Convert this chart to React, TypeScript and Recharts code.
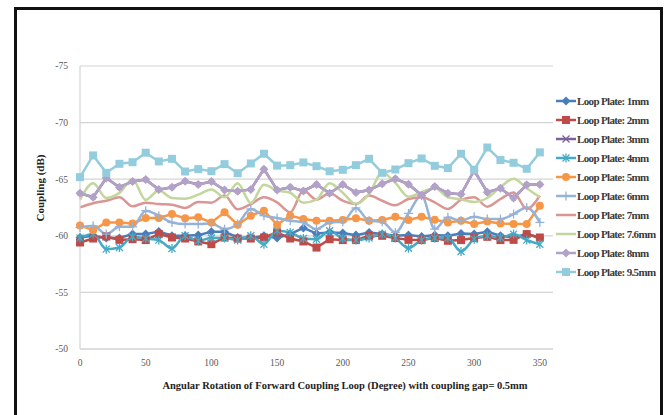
import React from 'react';
import { LineChart, Line, XAxis, YAxis, CartesianGrid } from 'recharts';

// Angular position of the forward coupling loop (degrees)
const angles = [0, 10, 20, 30, 40, 50, 60, 70, 80, 90, 100, 110, 120, 130, 140, 150, 160, 170, 180, 190, 200, 210, 220, 230, 240, 250, 260, 270, 280, 290, 300, 310, 320, 330, 340, 350];

// Coupling (dB) per loop plate size
const plate1mm = [-59.85, -60.0, -59.8, -59.8, -60.15, -60.15, -60.38, -60.0, -60.0, -60.06, -60.35, -60.35, -59.85, -59.8, -60.0, -59.8, -60.15, -60.7, -60.2, -60.3, -60.24, -60.06, -60.3, -60.15, -60.0, -60.06, -59.94, -60.06, -60.0, -60.2, -60.15, -60.35, -60.0, -59.85, -60.15, -59.8];
const plate2mm = [-59.41, -59.76, -59.94, -59.64, -59.7, -59.62, -60.15, -59.85, -59.76, -59.5, -59.26, -59.85, -59.76, -59.76, -59.85, -60.3, -59.76, -59.5, -58.96, -59.7, -59.62, -59.62, -60.0, -60.0, -59.8, -59.64, -59.62, -59.8, -59.56, -59.62, -59.8, -59.91, -59.62, -59.64, -60.15, -59.85];
const plate3mm = [-63.76, -63.4, -65.1, -64.29, -64.8, -64.97, -64.08, -64.29, -64.82, -64.53, -64.8, -64.05, -63.93, -64.1, -65.89, -64.05, -64.29, -63.96, -64.53, -63.76, -64.53, -63.82, -64.05, -64.59, -65.03, -64.56, -63.58, -64.35, -63.76, -63.67, -65.77, -63.85, -64.2, -63.34, -64.5, -64.53];
const plate4mm = [-59.8, -60.15, -58.82, -58.96, -59.91, -59.76, -59.62, -58.88, -60.0, -59.56, -59.8, -59.8, -59.62, -60.0, -59.26, -60.44, -60.3, -59.76, -59.7, -60.44, -59.76, -59.62, -59.8, -60.15, -59.8, -58.9, -59.62, -59.8, -59.8, -58.61, -59.7, -60.0, -59.85, -60.15, -59.62, -59.26];
const plate5mm = [-60.92, -60.5, -61.18, -61.18, -61.09, -61.57, -61.57, -61.92, -61.54, -61.63, -61.18, -62.07, -60.98, -61.78, -62.22, -60.98, -61.78, -61.48, -61.33, -61.33, -61.39, -61.54, -61.33, -61.39, -61.69, -61.39, -61.69, -61.42, -61.18, -61.33, -61.04, -61.27, -61.09, -61.04, -61.04, -62.66];
const plate6mm = [-60.74, -60.89, -60.15, -60.8, -60.8, -62.22, -61.78, -61.18, -61.04, -61.04, -61.09, -60.59, -61.04, -62.37, -61.78, -61.57, -61.33, -61.18, -60.59, -61.18, -61.24, -62.46, -61.33, -61.24, -60.3, -61.98, -63.55, -60.59, -61.63, -61.33, -61.69, -61.48, -61.48, -61.92, -62.51, -61.18];
const plate7mm = [-62.51, -62.87, -63.1, -63.4, -62.6, -62.93, -62.81, -62.75, -62.46, -62.99, -62.93, -63.55, -62.34, -62.8, -63.4, -62.96, -62.07, -64.0, -63.2, -63.76, -63.1, -62.81, -63.55, -63.1, -62.69, -63.25, -63.4, -62.96, -62.37, -63.17, -63.4, -62.57, -63.25, -63.82, -62.37, -63.55];
const plate7_6mm = [-63.17, -64.64, -63.34, -63.79, -64.97, -63.17, -64.0, -63.34, -63.28, -63.64, -64.1, -63.4, -64.64, -62.9, -64.5, -64.0, -63.8, -62.93, -63.2, -64.64, -63.8, -62.8, -63.7, -65.6, -64.67, -63.46, -63.85, -64.23, -63.4, -63.22, -62.99, -63.34, -64.3, -65.03, -64.2, -63.4];
const plate8mm = [-63.76, -63.4, -65.1, -64.29, -64.8, -64.97, -64.08, -64.29, -64.82, -64.53, -64.8, -64.05, -63.93, -64.1, -65.89, -64.05, -64.29, -63.96, -64.53, -63.76, -64.53, -63.82, -64.05, -64.59, -65.03, -64.56, -63.58, -64.35, -63.76, -63.67, -65.77, -63.85, -64.2, -63.34, -64.5, -64.53];
const plate9_5mm = [-65.18, -67.1, -65.56, -66.36, -66.5, -67.34, -66.57, -66.8, -65.68, -65.89, -65.71, -66.33, -65.53, -66.39, -67.25, -66.2, -66.24, -66.48, -66.15, -65.7, -65.83, -66.24, -66.8, -65.56, -65.86, -66.42, -66.83, -66.18, -65.98, -67.25, -65.83, -67.8, -66.69, -66.45, -65.92, -67.37];

const xTicks = [0, 50, 100, 150, 200, 250, 300, 350];
const yTicks = [-75, -70, -65, -60, -55, -50];

const seriesNames = ['Loop Plate: 1mm', 'Loop Plate: 2mm', 'Loop Plate: 3mm', 'Loop Plate: 4mm', 'Loop Plate: 5mm', 'Loop Plate: 6mm', 'Loop Plate: 7mm', 'Loop Plate: 7.6mm', 'Loop Plate: 8mm', 'Loop Plate: 9.5mm'];
const seriesValues = [plate1mm, plate2mm, plate3mm, plate4mm, plate5mm, plate6mm, plate7mm, plate7_6mm, plate8mm, plate9_5mm];

type Shape = 'diamond' | 'square' | 'x' | 'asterisk' | 'circle' | 'plus' | 'none';

const styles: { color: string; shape: Shape; smooth: boolean; size: number }[] = [
  { color: '#4A7EBB', shape: 'diamond', smooth: false, size: 4.5 },
  { color: '#BE4B48', shape: 'square', smooth: false, size: 4 },
  { color: '#7D60A0', shape: 'x', smooth: false, size: 2.2 },
  { color: '#46AAC5', shape: 'asterisk', smooth: true, size: 3.5 },
  { color: '#F79646', shape: 'circle', smooth: false, size: 4 },
  { color: '#95B3D7', shape: 'plus', smooth: true, size: 4.5 },
  { color: '#D99694', shape: 'none', smooth: true, size: 0 },
  { color: '#C3D69B', shape: 'none', smooth: true, size: 0 },
  { color: '#B3A2C7', shape: 'diamond', smooth: false, size: 4.5 },
  { color: '#93CDDD', shape: 'square', smooth: false, size: 4 },
];

const rows = angles.map((angle, i) => {
  const row: Record<string, number> = { angle };
  seriesValues.forEach((vals, s) => {
    row[`s${s}`] = vals[i];
  });
  return row;
});

const FONT = '"Liberation Serif", "Times New Roman", serif';

function Marker({ shape, cx, cy, color, s }: { shape: Shape; cx: number; cy: number; color: string; s: number }) {
  if (cx == null || cy == null) return null;
  switch (shape) {
    case 'diamond':
      return <polygon points={`${cx},${cy - s} ${cx + s},${cy} ${cx},${cy + s} ${cx - s},${cy}`} fill={color} />;
    case 'square':
      return <rect x={cx - s} y={cy - s} width={2 * s} height={2 * s} fill={color} />;
    case 'circle':
      return <circle cx={cx} cy={cy} r={s} fill={color} />;
    case 'x':
      return (
        <g stroke={color} strokeWidth={1.3}>
          <line x1={cx - s} y1={cy - s} x2={cx + s} y2={cy + s} />
          <line x1={cx - s} y1={cy + s} x2={cx + s} y2={cy - s} />
        </g>
      );
    case 'asterisk':
      return (
        <g stroke={color} strokeWidth={1.3}>
          <line x1={cx - s} y1={cy - s} x2={cx + s} y2={cy + s} />
          <line x1={cx - s} y1={cy + s} x2={cx + s} y2={cy - s} />
          <line x1={cx} y1={cy - s - 1} x2={cx} y2={cy + s + 1} />
        </g>
      );
    case 'plus':
      return (
        <g stroke={color} strokeWidth={1.3}>
          <line x1={cx - s} y1={cy} x2={cx + s} y2={cy} />
          <line x1={cx} y1={cy - s} x2={cx} y2={cy + s} />
        </g>
      );
    default:
      return null;
  }
}

function LegendBox() {
  return (
    <div
      style={{
        position: 'absolute',
        left: 555,
        top: 91,
        fontFamily: FONT,
        fontWeight: 'bold',
        fontSize: 11,
        color: '#3a3a3a',
      }}
    >
      {seriesNames.map((name, i) => (
        <div key={name} style={{ height: 19, display: 'flex', alignItems: 'center', whiteSpace: 'nowrap' }}>
          <svg width={22} height={12}>
            <line x1={1} y1={6} x2={21} y2={6} stroke={styles[i].color} strokeWidth={2.5} />
            <Marker shape={styles[i].shape} cx={11} cy={6} color={styles[i].color} s={Math.max(styles[i].size, 3.5)} />
          </svg>
          <span style={{ letterSpacing: -0.65 }}>{name}</span>
        </div>
      ))}
    </div>
  );
}

export default function App() {
  return (
    <div style={{ position: 'absolute', left: 0, top: 0, width: 670, height: 415, background: '#fff', overflow: 'hidden' }}>
      <LineChart
        width={670}
        height={415}
        data={rows}
        margin={{ top: 66, right: 117, left: 20, bottom: 36 }}
      >
        <CartesianGrid vertical={false} stroke="#D4D4D4" strokeWidth={1.2} />
        <XAxis
          dataKey="angle"
          type="number"
          domain={[0, 360]}
          ticks={xTicks}
          height={30}
          tickLine={false}
          axisLine={{ stroke: '#D4D4D4', strokeWidth: 1.2 }}
          tick={{ fontFamily: FONT, fontSize: 9.5, fill: '#595959' }}
          tickMargin={4}
        />
        <YAxis
          type="number"
          domain={[-75, -50]}
          reversed
          ticks={yTicks}
          width={60}
          tickLine={false}
          axisLine={{ stroke: '#D4D4D4', strokeWidth: 1.2 }}
          tick={{ fontFamily: FONT, fontSize: 9.5, fill: '#595959' }}
          tickMargin={6}
        />
        {seriesNames.map((name, i) => (
          <Line
            key={name}
            name={name}
            dataKey={`s${i}`}
            type={styles[i].smooth ? 'monotone' : 'linear'}
            stroke={styles[i].color}
            strokeWidth={2.5}
            isAnimationActive={false}
            dot={
              styles[i].shape === 'none'
                ? false
                : (p: any) => (
                    <Marker key={`m${i}-${p.index}`} shape={styles[i].shape} cx={p.cx} cy={p.cy} color={styles[i].color} s={styles[i].size} />
                  )
            }
            activeDot={false}
          />
        ))}
      </LineChart>
      <LegendBox />
      <div
        style={{
          position: 'absolute',
          left: 40,
          top: 188,
          transform: 'translate(-50%, -50%) rotate(-90deg)',
          fontFamily: FONT,
          fontWeight: 'bold',
          fontSize: 11,
          color: '#222',
          whiteSpace: 'nowrap',
        }}
      >
        Coupling (dB)
      </div>
      <div
        style={{
          position: 'absolute',
          left: 345,
          top: 385,
          transform: 'translate(-50%, -50%)',
          fontFamily: FONT,
          fontWeight: 'bold',
          fontSize: 10.5,
          color: '#222',
          whiteSpace: 'nowrap',
        }}
      >
        Angular Rotation of Forward Coupling Loop (Degree) with coupling gap= 0.5mm
      </div>
      <div
        style={{
          position: 'absolute',
          left: 14,
          top: 7,
          width: 649,
          height: 430,
          border: '3px solid #111',
          boxSizing: 'border-box',
          pointerEvents: 'none',
        }}
      />
    </div>
  );
}
